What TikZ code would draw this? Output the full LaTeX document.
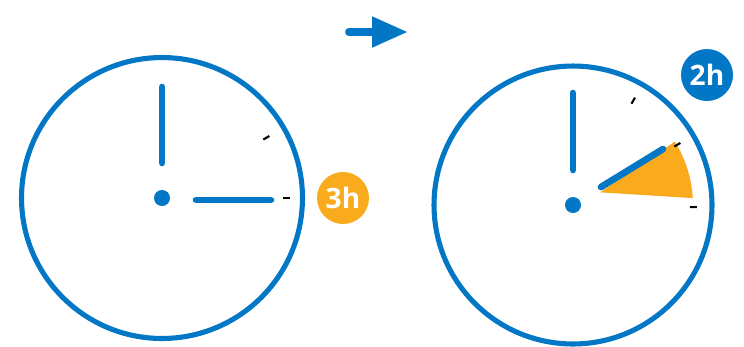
\documentclass[tikz,border=0pt]{standalone}
\usepackage{fontspec}
\setsansfont{Open Sans}
\usepackage{tikz}
\usetikzlibrary{
  arrows.meta,%
  positioning,%
  calc
}
\tikzset{>=latex}
\definecolor{clockblue}{RGB}{2, 119, 198}
\definecolor{sunorange}{RGB}{249, 171, 29}
\tikzset{
  rim/.style={draw=clockblue, line width=2.9pt},
  hand/.style={draw=clockblue, line width=3.8pt, line cap=round},
  tick/.style={draw=black, line width=1.2pt},
  badge/.style={circle, minimum size=1.04cm, inner sep=0pt,
    text=white, font=\sffamily\bfseries\fontsize{16}{16}\selectfont},
}

\begin{document}
\begin{tikzpicture}[x=0.02cm, y=-0.02cm]
  \useasboundingbox (0,0) rectangle (744,346);
  % left clock, three hours to go
  \coordinate (leftc) at (162,198);
  \draw[rim] (leftc) circle[radius=2.81cm]; %
  \fill[clockblue] (leftc) circle[radius=0.16cm]; %
  \draw[hand] (162,87) -- (162,163); %
  \draw[hand] (196,200) -- (271,200); %
  \begin{scope}[shift={(leftc)}]
    \draw[tick] (30:2.34cm) -- (30:2.48cm); %
    \draw[tick] (0:2.42cm) -- (0:2.56cm); %
  \end{scope}
  \node[badge, fill=sunorange] (three) at (343,198) {3h};
  % arrow between the clocks
  \coordinate (go) at (349,32);
  \coordinate (stop) at (408,32);
  \draw[clockblue, line width=4.5pt, line cap=round,
    -{Triangle[length=0.72cm, width=0.58cm]}] (go) -- (stop); %
  % right clock, two hours to go
  \coordinate (rightc) at (573,205);
  \begin{scope}[shift={(rightc)}]
    \fill[sunorange] (25:0.6cm) -- (3.3:2.4cm)
      arc[start angle=3.3, end angle=31.9, radius=2.4cm] -- cycle; %
  \end{scope}
  \draw[rim] (rightc) circle[radius=2.78cm]; %
  \fill[clockblue] (rightc) circle[radius=0.16cm]; %
  \draw[hand] (573,93) -- (573,170); %
  \draw[hand] (601,187) -- (663,149); %
  \begin{scope}[shift={(rightc)}]
    \draw[tick] (60:2.34cm) -- (60:2.48cm); %
    \draw[tick] (30:2.34cm) -- (30:2.48cm); %
    \draw[tick] (-1:2.34cm) -- (-1:2.48cm); %
  \end{scope}
  \node[badge, fill=clockblue] (two) at (707,75) {2h};
\end{tikzpicture}
\end{document}
